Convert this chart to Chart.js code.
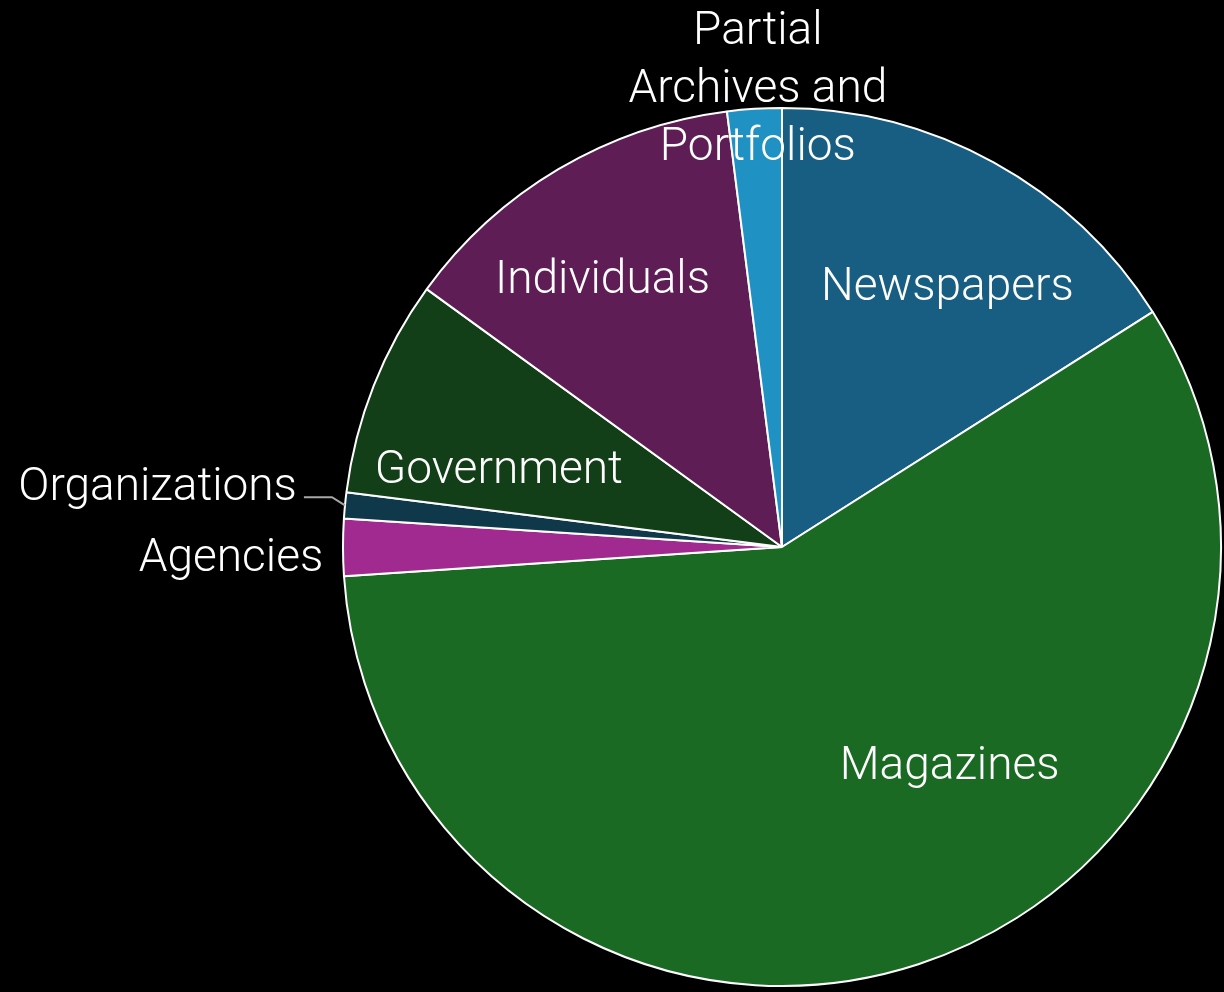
<!DOCTYPE html>
<html>
<head>
<meta charset="utf-8">
<script src="https://cdn.jsdelivr.net/npm/chart.js@4.4.1/dist/chart.umd.min.js"></script>
<style>
  html, body { margin: 0; padding: 0; background: #000; }
  #wrap { width: 1224px; height: 992px; position: relative; }
</style>
</head>
<body>
<div id="wrap"><canvas id="pieChart"></canvas></div>
<script>
// slices, clockwise from 12 o'clock (percent of total)
const categories = ["Newspapers", "Magazines", "Agencies", "Organizations", "Government", "Individuals", "Partial Archives and Portfolios"];
const shares = [16.0, 57.9, 2.1, 0.95, 8.0, 13.0, 2.0];
const sliceColors = ["#175e82", "#1b6a24", "#a02a8f", "#0f394b", "#123f17", "#5e1d55", "#2091c3"];

const FONT = "300 46px Roboto, 'Liberation Sans', sans-serif";
const LINE_H = 58;
const TEXT_NUDGE = 4; // 'middle' baseline sits a little high for this face

// where each label sits, relative to the pie centre, in units of the radius
const labelSpots = {
  "Newspapers": { dx: 0.377, dy: -0.598, align: "center" },
  "Magazines": { dx: 0.382, dy: 0.493, align: "center" },
  "Individuals": { dx: -0.409, dy: -0.614, align: "center" },
  "Government": { dx: -0.645, dy: -0.182, align: "center" },
  "Agencies": { dx: -1.045, dy: 0.020, align: "right" },
  "Organizations": { dx: -1.105, dy: -0.143, align: "right", leader: true },
  "Partial Archives and Portfolios": { dx: -0.055, dy: -1.048, align: "center",
    lines: ["Partial", "Archives and", "Portfolios"] }
};

const pieLabels = {
  id: "pieLabels",
  afterDatasetsDraw(chart) {
    const ctx = chart.ctx;
    const meta = chart.getDatasetMeta(0);
    ctx.save();
    ctx.font = FONT;
    ctx.fillStyle = "#ffffff";
    ctx.textBaseline = "middle";
    meta.data.forEach((arc, i) => {
      const name = categories[i];
      const spot = labelSpots[name];
      const { x, y, outerRadius, startAngle, endAngle } = arc.getProps(["x", "y", "outerRadius", "startAngle", "endAngle"], true);
      const tx = x + spot.dx * outerRadius;
      const ty = y + spot.dy * outerRadius;
      ctx.textAlign = spot.align;
      if (spot.leader) {
        const mid = (startAngle + endAngle) / 2;
        const ex = x + Math.cos(mid) * outerRadius;
        const ey = y + Math.sin(mid) * outerRadius;
        ctx.strokeStyle = "#a8a8a8";
        ctx.lineWidth = 2;
        ctx.beginPath();
        ctx.moveTo(tx + 7, ty + 13);
        ctx.lineTo(ex - 13, ty + 13);
        ctx.lineTo(ex, ey);
        ctx.stroke();
      }
      const lines = spot.lines || [name];
      lines.forEach((ln, k) => {
        ctx.fillText(ln, tx, ty + TEXT_NUDGE + (k - (lines.length - 1) / 2) * LINE_H);
      });
    });
    ctx.restore();
  }
};

new Chart(document.getElementById("pieChart"), {
  type: "pie",
  data: {
    labels: categories,
    datasets: [{
      data: shares,
      backgroundColor: sliceColors,
      borderColor: "#ffffff",
      borderWidth: 2
    }]
  },
  options: {
    responsive: true,
    maintainAspectRatio: false,
    animation: false,
    events: [],
    layout: { padding: { left: 342, right: 2, top: 107, bottom: 5 } },
    plugins: {
      legend: { display: false },
      tooltip: { enabled: false }
    }
  },
  plugins: [pieLabels]
});
</script>
</body>
</html>
